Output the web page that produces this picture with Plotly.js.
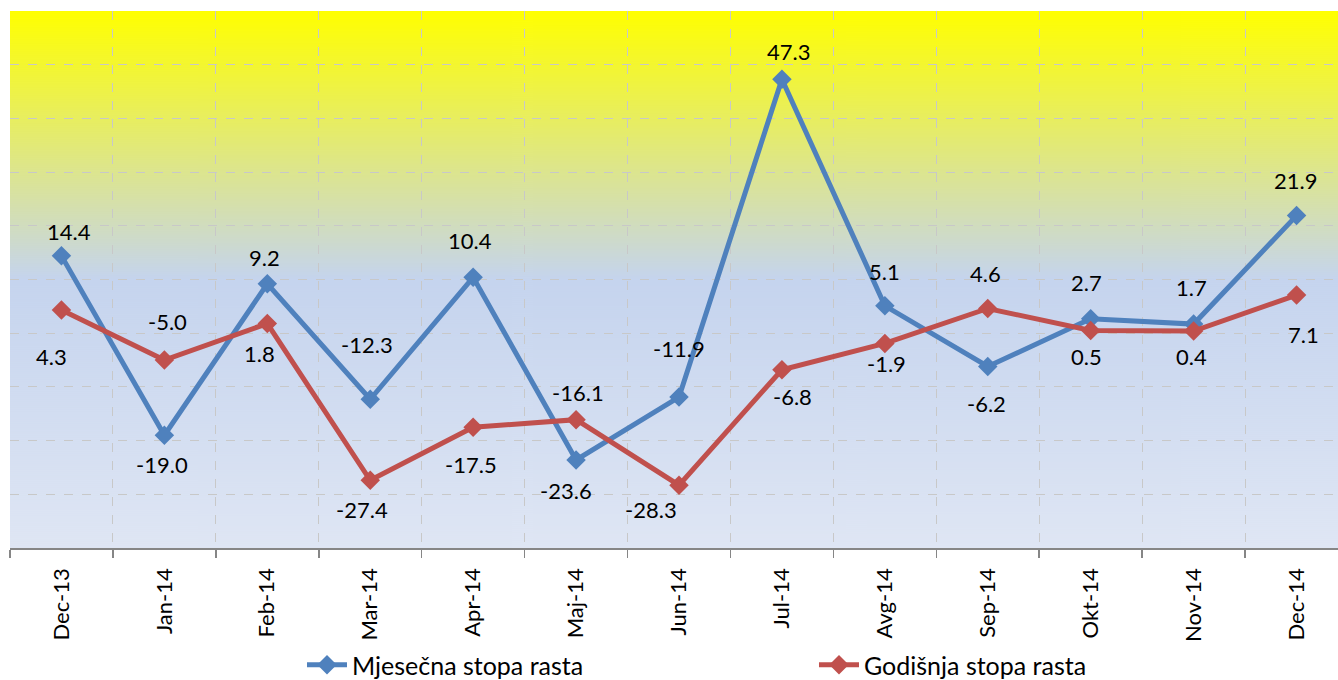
<!DOCTYPE html>
<html>
<head>
<meta charset="utf-8">
<script src="https://cdn.plot.ly/plotly-3.0.1.min.js"></script>
<style>
html,body{margin:0;padding:0;overflow:hidden;background:#fff;width:1338px;height:680px;}
#chart{width:1350px;height:680px;}
</style>
</head>
<body>
<div id="chart"></div>
<script>
const categories = ["Dec-13","Jan-14","Feb-14","Mar-14","Apr-14","Maj-14","Jun-14","Jul-14","Avg-14","Sep-14","Okt-14","Nov-14","Dec-14"];
const mjesecna = [14.4,-19.0,9.2,-12.3,10.4,-23.6,-11.9,47.3,5.1,-6.2,2.7,1.7,21.9];
const godisnja = [4.3,-5.0,1.8,-27.4,-17.5,-16.1,-28.3,-6.8,-1.9,4.6,0.5,0.4,7.1];
const seriesNames = ["Mjesečna stopa rasta","Godišnja stopa rasta"];

// data-label pixel nudges (style only)
const blueLabelDy = [-24, 29, -26, -55, -37, 31, -49, -28, -34, 37, -36, -37, -35];
const blueLabelDx = [8, -2, -3, -3, -3, -10, 0, 7, 0, -1, -4, -2, -1];
const redLabelDy = [46, -39, 30, 29, 37, -27, 24, 27, 20, -35, 26, 25, 39];
const redLabelDx = [-10, 3, -8, -8, -2, 2, -28, 11, 2, -2, -4, -2, 7];

// gradient background image
const cv = document.createElement('canvas');
cv.width = 4; cv.height = 537;
const ctx = cv.getContext('2d');
const g = ctx.createLinearGradient(0,0,0,537);
g.addColorStop(0,'#FFFF00');
g.addColorStop(0.5,'#C5D4EE');
g.addColorStop(1,'#DFE6F4');
ctx.fillStyle = g;
ctx.fillRect(0,0,4,537);
const bgURL = cv.toDataURL();

const blueColor = '#4F81BD', redColor = '#C0504D';
const fmt = v => v.toFixed(1);

const traces = [
  {x: categories, y: mjesecna, name: seriesNames[0], type:'scatter', mode:'lines+markers',
   line:{color:blueColor,width:5}, marker:{symbol:'diamond',size:15,color:blueColor}, cliponaxis:false},
  {x: categories, y: godisnja, name: seriesNames[1], type:'scatter', mode:'lines+markers',
   line:{color:redColor,width:5}, marker:{symbol:'diamond',size:15,color:redColor}, cliponaxis:false}
];

const annotations = [];
categories.forEach((c,i)=>{
  annotations.push({x:c, y:mjesecna[i], xref:'x', yref:'y', text:fmt(mjesecna[i]), showarrow:false,
    xanchor:'center', yanchor:'middle', xshift:blueLabelDx[i], yshift:-blueLabelDy[i],
    font:{family:'Lato',size:22,color:'#000'}});
  annotations.push({x:c, y:godisnja[i], xref:'x', yref:'y', text:fmt(godisnja[i]), showarrow:false,
    xanchor:'center', yanchor:'middle', xshift:redLabelDx[i], yshift:-redLabelDy[i],
    font:{family:'Lato',size:22,color:'#000'}});
});

const layout = {
  width:1350, height:680,
  margin:{l:10,r:2,t:11,b:132, autoexpand:false},
  paper_bgcolor:'#fff', plot_bgcolor:'rgba(0,0,0,0)',
  font:{family:'Lato',color:'#000'},
  showlegend:true,
  legend:{orientation:'h', xref:'container', yref:'container', x:0.2237, xanchor:'left', y:0.022, yanchor:'middle',
          font:{family:'Lato',size:25,color:'#000'}, entrywidth:457, entrywidthmode:'pixels',
          itemwidth:40, bgcolor:'rgba(0,0,0,0)'},
  xaxis:{type:'category', tickson:'boundaries', showgrid:true, gridcolor:'#C8C8C8', griddash:'dash', gridwidth:1,
         ticks:'outside', ticklen:8, tickcolor:'#868686', tickwidth:1.5, ticklabelstandoff:10,
         showline:true, linecolor:'#868686', linewidth:1.5, automargin:false,
         tickangle:-90, tickfont:{family:'Lato',size:22,color:'#000'}, range:[-0.5,12.5], fixedrange:true},
  yaxis:{range:[-40,60], dtick:10, showticklabels:false, showgrid:true, gridcolor:'#C8C8C8', griddash:'dash',
         gridwidth:1, zeroline:false, showline:false, ticks:'', fixedrange:true, automargin:false},
  annotations: annotations,
  images:[{source:bgURL, xref:'paper', yref:'paper', x:0, y:1, sizex:1, sizey:1, sizing:'stretch', layer:'below', xanchor:'left', yanchor:'top'}]
};

Plotly.newPlot('chart', traces, layout, {displayModeBar:false, staticPlot:true});
</script>
</body>
</html>
